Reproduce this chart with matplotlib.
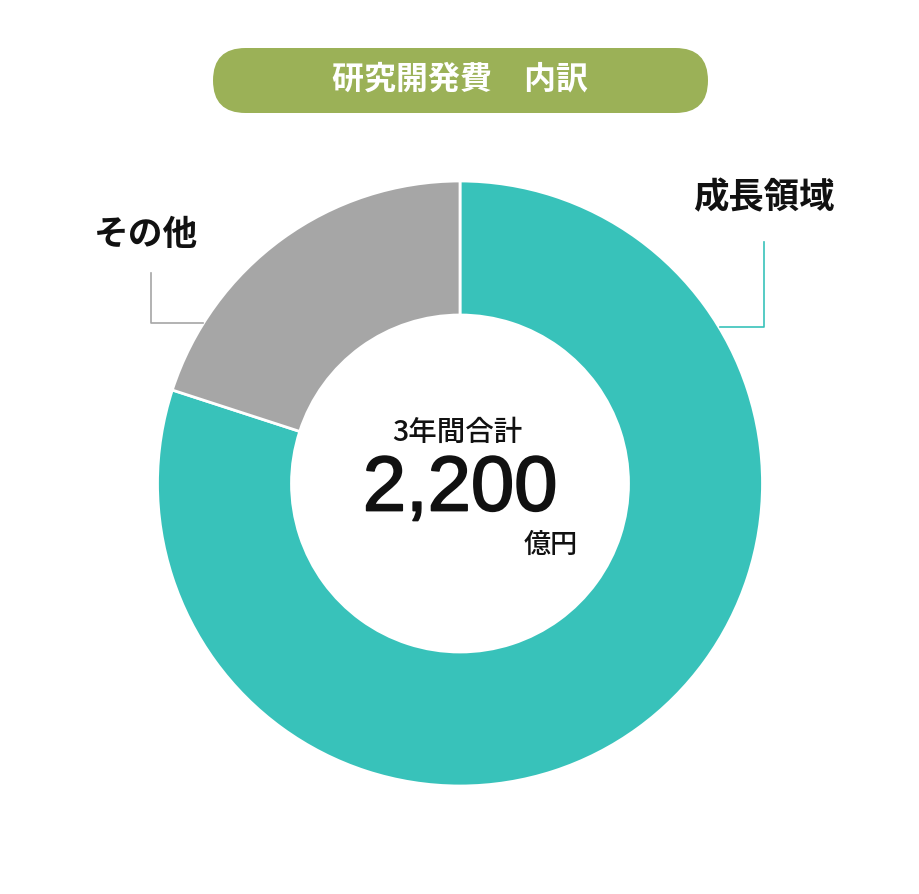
import matplotlib
matplotlib.use("Agg")
import matplotlib.pyplot as plt
import matplotlib.patheffects as pe
from matplotlib.patches import FancyBboxPatch

plt.rcParams['font.family'] = ['Noto Sans CJK JP', 'DejaVu Sans']

# data
labels = ['成長領域', 'その他']
shares = [80, 20]
colors = ['#38c2ba', '#a6a6a6']
title = '研究開発費\u3000内訳'
center_caption = '3年間合計'
total_value = '2,200'
total_unit = '億円'

W, H = 920, 894


def py(y):
    # pixel row (from top) -> data y
    return H - y


fig = plt.figure(figsize=(W / 100, H / 100), dpi=100)
ax = fig.add_axes([0, 0, 1, 1])

ax.pie(shares, colors=colors, startangle=90, counterclock=False,
       center=(460, py(483.5)), radius=302.5,
       wedgeprops=dict(width=134, edgecolor='white', linewidth=2))

ax.set_xlim(0, W)
ax.set_ylim(0, H)
ax.set_aspect('equal')
ax.axis('off')

# title pill
pill = FancyBboxPatch((213, py(113)), 495, 65,
                      boxstyle='round,pad=0,rounding_size=32.5',
                      facecolor='#9bb157', edgecolor='none')
ax.add_patch(pill)
ax.text(460, py(80), title, color='white', fontsize=23, fontweight='bold',
        ha='center', va='center')

# leader lines
ax.plot([151, 151, 203], [py(273), py(323), py(323)], color='#a6a6a6', lw=1.2)
ax.plot([764, 764, 720], [py(242), py(327), py(327)], color='#38c2ba', lw=1.2)

ax.text(146, py(235), labels[1], fontsize=25, fontweight='bold',
        ha='center', va='center', color='#111111')
ax.text(764, py(198), labels[0], fontsize=25.5, fontweight='bold',
        ha='center', va='center', color='#111111')

# centre texts
ax.text(457, py(432), center_caption, fontsize=20.5, fontweight='medium',
        ha='center', va='center', color='#111111')
ax.text(460, py(490), total_value, fontsize=56, family=['Liberation Sans'],
        ha='center', va='center', color='#111111',
        path_effects=[pe.withStroke(linewidth=1.3, foreground='#111111')])
ax.text(551, py(545), total_unit, fontsize=19.5, fontweight='medium',
        ha='center', va='center', color='#111111')

fig.savefig('out.png', dpi=100, facecolor='white')
